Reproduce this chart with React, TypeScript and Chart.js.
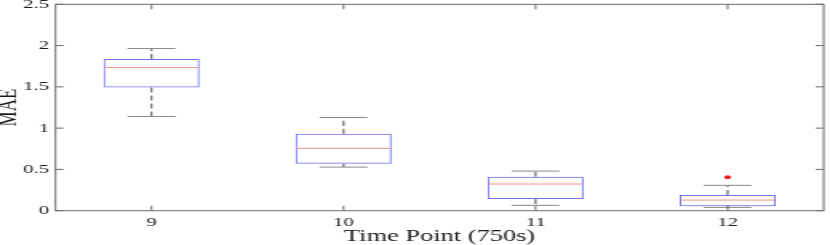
import React, { useEffect, useRef } from 'react';
import { Chart, registerables } from 'chart.js';

Chart.register(...registerables);

// ---- data ----
const categories = ['9', '10', '11', '12'];
const q1 = [1.492, 0.568, 0.141, 0.053];
const q3 = [1.838, 0.931, 0.411, 0.19];
const medians = [1.734, 0.755, 0.323, 0.129];
const whiskerLow = [1.141, 0.528, 0.065, 0.04];
const whiskerHigh = [1.964, 1.129, 0.48, 0.307];
const outliers: (number | null)[] = [null, null, null, 0.404];
const yMin = 0;
const yMax = 2.5;
const yStep = 0.5;

// ---- layout (internal canvas stretched horizontally like the reference) ----
const W = 519;
const H = 245;
const DISPLAY_W = 830;
const FONT = "'Liberation Serif', 'Times New Roman', serif";
const TEXT = '#1a1a1a';
const AXIS = '#6a6a6a';

const boxExtras = {
  id: 'boxExtras',
  beforeDatasetsDraw(chart: any) {
    const meta = chart.getDatasetMeta(0);
    const y = chart.scales.y;
    const ctx = chart.ctx;
    ctx.save();
    ctx.lineWidth = 1;
    meta.data.forEach((bar: any, i: number) => {
      const { x, width } = bar.getProps(['x', 'width'], true);
      const capHalf = width / 4;
      const pHi = y.getPixelForValue(whiskerHigh[i]);
      const pLo = y.getPixelForValue(whiskerLow[i]);
      const pQ1 = y.getPixelForValue(q1[i]);
      const pQ3 = y.getPixelForValue(q3[i]);
      ctx.strokeStyle = '#4a4a4a';
      ctx.setLineDash([5, 3]);
      ctx.beginPath();
      ctx.moveTo(x, pQ3);
      ctx.lineTo(x, pHi);
      ctx.moveTo(x, pQ1);
      ctx.lineTo(x, pLo);
      ctx.stroke();
      ctx.setLineDash([]);
      ctx.strokeStyle = '#8a8a8a';
      ctx.beginPath();
      ctx.moveTo(x - capHalf, pHi);
      ctx.lineTo(x + capHalf, pHi);
      ctx.moveTo(x - capHalf, pLo);
      ctx.lineTo(x + capHalf, pLo);
      ctx.stroke();
    });
    ctx.restore();
  },
  afterDatasetsDraw(chart: any) {
    const meta = chart.getDatasetMeta(0);
    const y = chart.scales.y;
    const ctx = chart.ctx;
    ctx.save();
    ctx.lineWidth = 1;
    ctx.strokeStyle = '#f39090';
    meta.data.forEach((bar: any, i: number) => {
      const { x, width } = bar.getProps(['x', 'width'], true);
      const pm = y.getPixelForValue(medians[i]);
      ctx.beginPath();
      ctx.moveTo(x - width / 2 + 1, pm);
      ctx.lineTo(x + width / 2 - 1, pm);
      ctx.stroke();
    });
    ctx.restore();
  },
};

const axesFrame = {
  id: 'axesFrame',
  afterDraw(chart: any) {
    const { left, right, top, bottom } = chart.chartArea;
    const ctx = chart.ctx;
    const x = chart.scales.x;
    const y = chart.scales.y;
    const tl = 5;
    ctx.save();
    ctx.strokeStyle = AXIS;
    ctx.lineWidth = 1;
    ctx.strokeRect(left, top, right - left, bottom - top);
    ctx.beginPath();
    y.ticks.forEach((_: any, i: number) => {
      const py = y.getPixelForTick(i);
      ctx.moveTo(left, py);
      ctx.lineTo(left + tl, py);
      ctx.moveTo(right, py);
      ctx.lineTo(right - tl, py);
    });
    x.ticks.forEach((_: any, i: number) => {
      const px = x.getPixelForTick(i);
      ctx.moveTo(px, bottom);
      ctx.lineTo(px, bottom - tl);
      ctx.moveTo(px, top);
      ctx.lineTo(px, top + tl);
    });
    ctx.stroke();
    ctx.restore();
  },
};

export default function App() {
  const ref = useRef<HTMLCanvasElement | null>(null);

  useEffect(() => {
    document.body.style.margin = '0';
    const canvas = ref.current;
    if (!canvas) return;
    const chart = new Chart(canvas, {
      type: 'bar',
      data: {
        labels: categories,
        datasets: [
          {
            type: 'bar',
            data: categories.map((_, i) => [q1[i], q3[i]]) as any,
            backgroundColor: 'rgba(0,0,0,0)',
            borderColor: '#7373f7',
            borderWidth: 1,
            borderSkipped: false,
            barPercentage: 0.5,
            categoryPercentage: 1,
            order: 2,
          } as any,
          {
            type: 'line',
            data: outliers as any,
            showLine: false,
            pointRadius: 2,
            pointBorderWidth: 0,
            pointBackgroundColor: '#ff1010',
            order: 1,
          } as any,
        ],
      },
      options: {
        animation: false,
        responsive: false,
        devicePixelRatio: 1,
        layout: { padding: { top: 4.3, right: 0.7, left: 0, bottom: 0 } },
        plugins: { legend: { display: false }, tooltip: { enabled: false } },
        scales: {
          x: {
            type: 'category',
            offset: true,
            grid: { display: false, drawTicks: false },
            border: { display: false },
            ticks: { padding: 4, color: TEXT, font: { family: FONT, size: 13 } },
            title: {
              display: true,
              text: 'Time Point (750s)',
              color: TEXT,
              padding: 0,
              font: { family: FONT, size: 16.5, lineHeight: 0.95 },
            },
            afterFit(s: any) {
              s.height = 34.3;
              s.paddingLeft = 0;
              s.paddingRight = 0;
            },
          },
          y: {
            min: yMin,
            max: yMax,
            grid: { display: false, drawTicks: false },
            border: { display: false },
            ticks: {
              stepSize: yStep,
              padding: 4,
              color: TEXT,
              font: { family: FONT, size: 13 },
              callback: (v: any) => String(Number(v)),
            },
            title: {
              display: true,
              text: 'MAE',
              color: TEXT,
              padding: 0,
              font: { family: FONT, size: 17, lineHeight: 0.66 },
            },
            afterFit(s: any) {
              s.width = 34.7;
              s.paddingTop = 0;
              s.paddingBottom = 0;
            },
          },
        },
      } as any,
      plugins: [boxExtras, axesFrame],
    });
    canvas.style.width = DISPLAY_W + 'px';
    canvas.style.height = H + 'px';
    return () => chart.destroy();
  }, []);

  return (
    <canvas
      ref={ref}
      width={W}
      height={H}
      style={{ width: DISPLAY_W + 'px', height: H + 'px', display: 'block' }}
    />
  );
}
